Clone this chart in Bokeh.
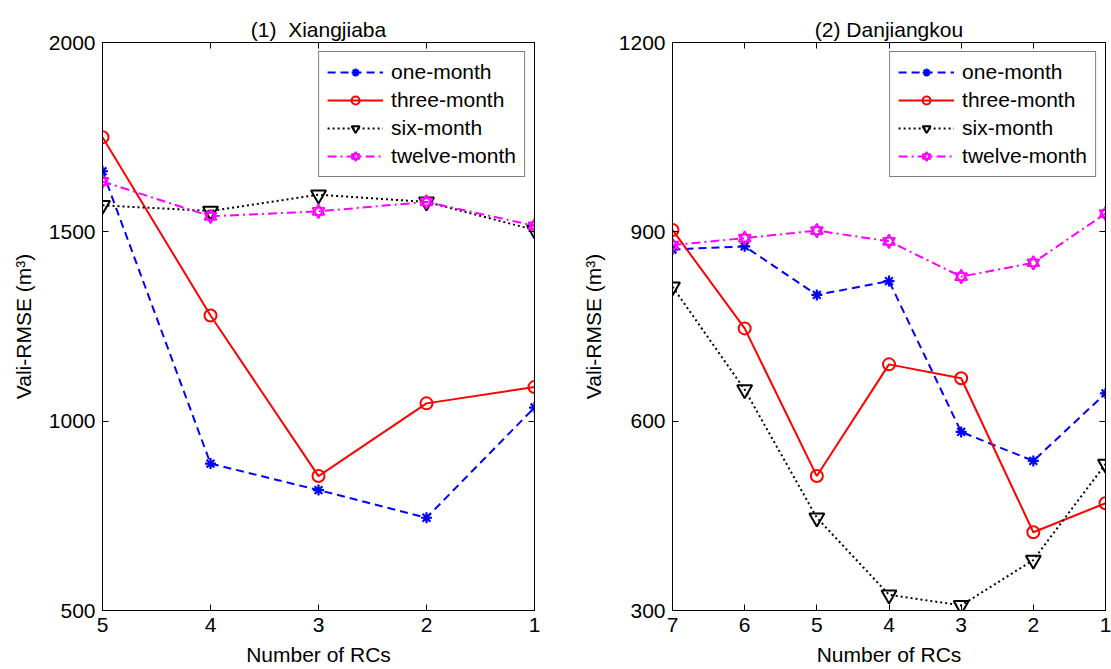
from bokeh.plotting import figure
from bokeh.models import (Range1d, FixedTicker, LinearAxis, Legend, LegendItem,
                          CustomLabelingPolicy)
from bokeh.layouts import row
from bokeh.embed import file_html
from bokeh.resources import INLINE

FONT = "Liberation Sans"

series_names = ["one-month", "three-month", "six-month", "twelve-month"]

# Panel (1) Xiangjiaba
x_rcs_1 = [5, 4, 3, 2, 1]
one_month_1 = [1660, 888, 818, 745, 1036]
three_month_1 = [1750, 1279, 855, 1047, 1090]
six_month_1 = [1570, 1555, 1598, 1579, 1505]
twelve_month_1 = [1633, 1541, 1554, 1579, 1516]
yticks_1 = [500, 1000, 1500, 2000]

# Panel (2) Danjiangkou
x_rcs_2 = [7, 6, 5, 4, 3, 2, 1]
one_month_2 = [872, 877, 800, 822, 583, 537, 644]
three_month_2 = [903, 747, 513, 690, 668, 424, 470]
six_month_2 = [813, 650, 447, 325, 308, 380, 532]
twelve_month_2 = [879, 890, 902, 885, 829, 851, 929]
yticks_2 = [300, 600, 900, 1200]

STYLES = [
    dict(color="#0000FF", dash="8 5", markers=[("asterisk", 11, 2.2)]),
    dict(color="#FF0000", dash="solid", markers=[("circle", 12, 2)]),
    dict(color="#000000", dash="2 3", markers=[("inverted_triangle", 15, 2)]),
    dict(color="#FF00FF", dash="9 4 2 4", markers=[("triangle", 12, 1.8), ("inverted_triangle", 12, 1.8)]),
]

NO_LABELS = "for (const i of Array.from(indices)) { indices.unset(i) }\nreturn indices"


def style_axis(ax, ticks, labels=True):
    ax.ticker = FixedTicker(ticks=ticks)
    ax.major_tick_in = 6
    ax.major_tick_out = 0
    ax.minor_tick_in = 0
    ax.minor_tick_out = 0
    ax.axis_line_color = "black"
    ax.axis_line_width = 1
    ax.major_tick_line_color = "black"
    if labels:
        ax.major_label_text_font = FONT
        ax.major_label_text_font_size = "21px"
        ax.major_label_text_color = "black"
        ax.major_label_standoff = 7
        ax.axis_label_text_font = FONT
        ax.axis_label_text_font_size = "21px"
        ax.axis_label_text_font_style = "normal"
        ax.axis_label_text_color = "black"
    else:
        ax.major_label_text_font_size = "0px"
        ax.major_label_standoff = 0
        ax.major_label_policy = CustomLabelingPolicy(code=NO_LABELS)


def make_fig(title, x, ys, xr, yr, yticks, width, left_border, right_border):
    p = figure(width=width, height=669,
               x_range=Range1d(xr[0], xr[1]), y_range=Range1d(yr[0], yr[1]),
               output_backend="svg", toolbar_location=None,
               min_border_left=left_border, min_border_right=right_border,
               min_border_top=42, min_border_bottom=59,
               background_fill_color="white", border_fill_color="white")
    p.title.text = title
    p.title.align = "center"
    p.title.vertical_align = "bottom"
    p.title.text_font = FONT
    p.title.text_font_size = "21px"
    p.title.text_font_style = "normal"
    p.title.text_color = "black"
    p.title.standoff = 4
    p.outline_line_color = "black"
    p.outline_line_width = 1
    p.xgrid.visible = False
    p.ygrid.visible = False

    xticks = sorted(x)
    style_axis(p.xaxis[0], xticks)
    style_axis(p.yaxis[0], yticks)
    p.xaxis[0].axis_label = "Number of RCs"
    p.xaxis[0].axis_label_standoff = 8
    p.yaxis[0].axis_label = "Vali-RMSE (m\u00b3)"
    p.yaxis[0].axis_label_standoff = 11

    top = LinearAxis()
    style_axis(top, xticks, labels=False)
    p.add_layout(top, "above")
    right = LinearAxis()
    style_axis(right, yticks, labels=False)
    p.add_layout(right, "right")

    items = []
    for name, y, st in zip(series_names, ys, STYLES):
        rs = [p.line(x, y, line_color=st["color"], line_width=2, line_dash=st["dash"])]
        for mk, sz, lw in st["markers"]:
            rs.append(p.scatter(x, y, marker=mk, size=sz, line_color=st["color"],
                                line_width=lw, fill_color=None))
        items.append(LegendItem(label=name, renderers=rs))

    legend = Legend(items=items, location="top_right")
    legend.margin = 9
    legend.padding = 8
    legend.spacing = 4
    legend.glyph_width = 56
    legend.glyph_height = 20
    legend.label_height = 20
    legend.label_standoff = 8
    legend.label_text_font = FONT
    legend.label_text_font_size = "21px"
    legend.label_text_color = "black"
    legend.border_line_color = "black"
    legend.border_line_width = 1
    legend.background_fill_color = "white"
    legend.background_fill_alpha = 1
    p.add_layout(legend, "center")
    return p


p1 = make_fig("(1) \u00a0Xiangjiaba", x_rcs_1,
              [one_month_1, three_month_1, six_month_1, twelve_month_1],
              (5, 1), (500, 2000), yticks_1, 560, 102, 26)
p2 = make_fig("(2) Danjiangkou", x_rcs_2,
              [one_month_2, three_month_2, six_month_2, twelve_month_2],
              (7, 1), (300, 1200), yticks_2, 551, 112, 6)

layout = row(p1, p2)
open("out.html", "w").write(file_html(layout, INLINE))
